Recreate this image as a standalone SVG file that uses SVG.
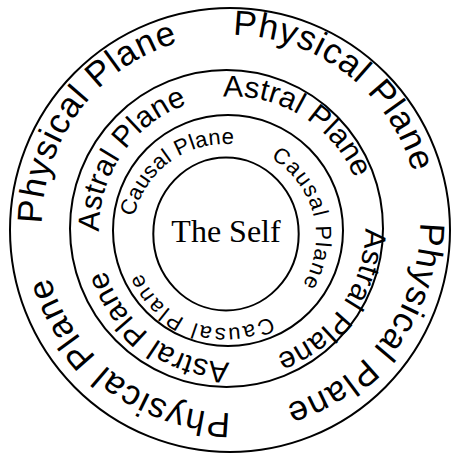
<svg xmlns="http://www.w3.org/2000/svg" xmlns:xlink="http://www.w3.org/1999/xlink" width="452" height="455" viewBox="0 0 452 455">
  <style>
    .ring { fill: none; stroke: #000; stroke-width: 2; }
    .lbl { font-family: "Liberation Sans", Arial, sans-serif; fill: #000; }
    .phys { font-size: 35px; letter-spacing: 1px; }
    .astr { font-size: 30px; letter-spacing: 0.3px; }
    .caus { font-size: 22px; }
    .self { font-family: "Liberation Serif", "Times New Roman", serif; font-size: 32px; fill: #000; }
  </style>
  <defs>
    <path id="pPhys" d="M231,35 A189,189 0 0 1 231,413 A189,189 0 0 1 231,35 A189,189 0 0 1 231,413 A189,189 0 0 1 231,35"/>
    <path id="pAstr" d="M232,96.5 A133,133 0 0 1 232,362.5 A133,133 0 0 1 232,96.5 A133,133 0 0 1 232,362.5 A133,133 0 0 1 232,96.5"/>
    <path id="pCaus" d="M225,146 A91,91 0 0 1 225,328 A91,91 0 0 1 225,146 A91,91 0 0 1 225,328 A91,91 0 0 1 225,146"/>
    <path id="pCaus1" d="M225,144 A93,93 0 0 1 225,330 A93,93 0 0 1 225,144 A93,93 0 0 1 225,330 A93,93 0 0 1 225,144"/>
  </defs>
  <rect width="452" height="455" fill="#fff"/>
  <g id="physical">
    <ellipse class="ring" cx="230" cy="230" rx="220" ry="222"/>
    <text class="lbl phys"><textPath href="#pPhys" xlink:href="#pPhys" startOffset="890.6">Physical Plane</textPath></text>
    <text class="lbl phys"><textPath href="#pPhys" xlink:href="#pPhys" startOffset="1.7">Physical Plane</textPath></text>
    <text class="lbl phys"><textPath href="#pPhys" xlink:href="#pPhys" startOffset="295.2">Physical Plane</textPath></text>
    <text class="lbl phys"><textPath href="#pPhys" xlink:href="#pPhys" startOffset="593.8">Physical Plane</textPath></text>
  </g>
  <g id="astral">
    <ellipse class="ring" cx="226.5" cy="228.5" rx="156.5" ry="158.5"/>
    <text class="lbl astr"><textPath href="#pAstr" xlink:href="#pAstr" startOffset="624.4">Astral Plane</textPath></text>
    <text class="lbl astr"><textPath href="#pAstr" xlink:href="#pAstr" startOffset="826.4">Astral Plane</textPath></text>
    <text class="lbl astr"><textPath href="#pAstr" xlink:href="#pAstr" startOffset="207.5">Astral Plane</textPath></text>
    <text class="lbl astr"><textPath href="#pAstr" xlink:href="#pAstr" startOffset="420.2">Astral Plane</textPath></text>
  </g>
  <g id="causal">
    <ellipse class="ring" cx="228" cy="230.5" rx="115" ry="115.5"/>
    <text class="lbl caus" letter-spacing="0.3"><textPath href="#pCaus1" xlink:href="#pCaus1" startOffset="457.8">Causal Plane</textPath></text>
    <text class="lbl caus" letter-spacing="1.3"><textPath href="#pCaus" xlink:href="#pCaus" startOffset="47.6">Causal Plane</textPath></text>
    <text class="lbl caus" letter-spacing="2"><textPath href="#pCaus" xlink:href="#pCaus" startOffset="238.2">Causal Plane</textPath></text>
  </g>
  <g id="self">
    <ellipse class="ring" cx="226" cy="234" rx="72.7" ry="76.5"/>
    <text class="self" x="226" y="242" text-anchor="middle">The Self</text>
  </g>
</svg>
